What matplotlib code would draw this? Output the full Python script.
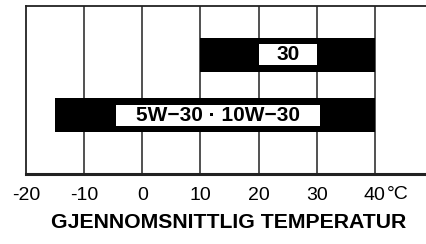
import matplotlib.pyplot as plt

# Data
grader = [-20, -10, 0, 10, 20, 30, 40]
oljer = ["30", "5W\u221230 \u00b7 10W\u221230"]
fra = [10, -15]
til = [40, 40]
rad = [7.1, 3.5]
etikett_fra = [20, -4.5]
etikett_til = [30, 30.5]

plt.rcParams['font.family'] = ['Liberation Sans', 'DejaVu Sans']

fig = plt.figure(figsize=(4.26, 2.44), dpi=100)
ax = fig.add_axes([26 / 426, 70 / 244, 1 - 26 / 426, 168 / 244])
ax.set_xlim(-20, 48.8)
ax.set_ylim(0, 10)

# vertikale linjer
for g in grader[1:]:
    ax.axvline(g, color="#333333", lw=1.2, zorder=1)

# svarte felt + hvite etiketter
for i in range(len(oljer)):
    ax.barh(rad[i], til[i] - fra[i], left=fra[i], height=2.0,
            color="black", zorder=2)
    ax.barh(rad[i], etikett_til[i] - etikett_fra[i], left=etikett_fra[i],
            height=1.25, color="white", zorder=3)
    ax.text((etikett_fra[i] + etikett_til[i]) / 2, rad[i], oljer[i],
            ha="center", va="center", fontsize=15, fontweight="bold", zorder=4)

ax.spines["right"].set_visible(False)
ax.spines["top"].set_linewidth(1.3)
ax.spines["left"].set_linewidth(1.3)
ax.spines["bottom"].set_linewidth(2.2)
for s in ax.spines.values():
    s.set_color("#222222")

ax.set_yticks([])
ax.set_xticks(grader)
ax.set_xticklabels([str(g) for g in grader])
ax.tick_params(axis="x", length=0, pad=9.5, labelsize=14)
ax.text(42.0, -0.07, "\u00b0C", transform=ax.get_xaxis_transform(),
        ha="left", va="top", fontsize=14)

fig.text(229 / 426, 21 / 244, "GJENNOMSNITTLIG TEMPERATUR", ha="center",
         va="center", fontsize=15.3, fontweight="bold")

fig.savefig("out.png", dpi=100)
